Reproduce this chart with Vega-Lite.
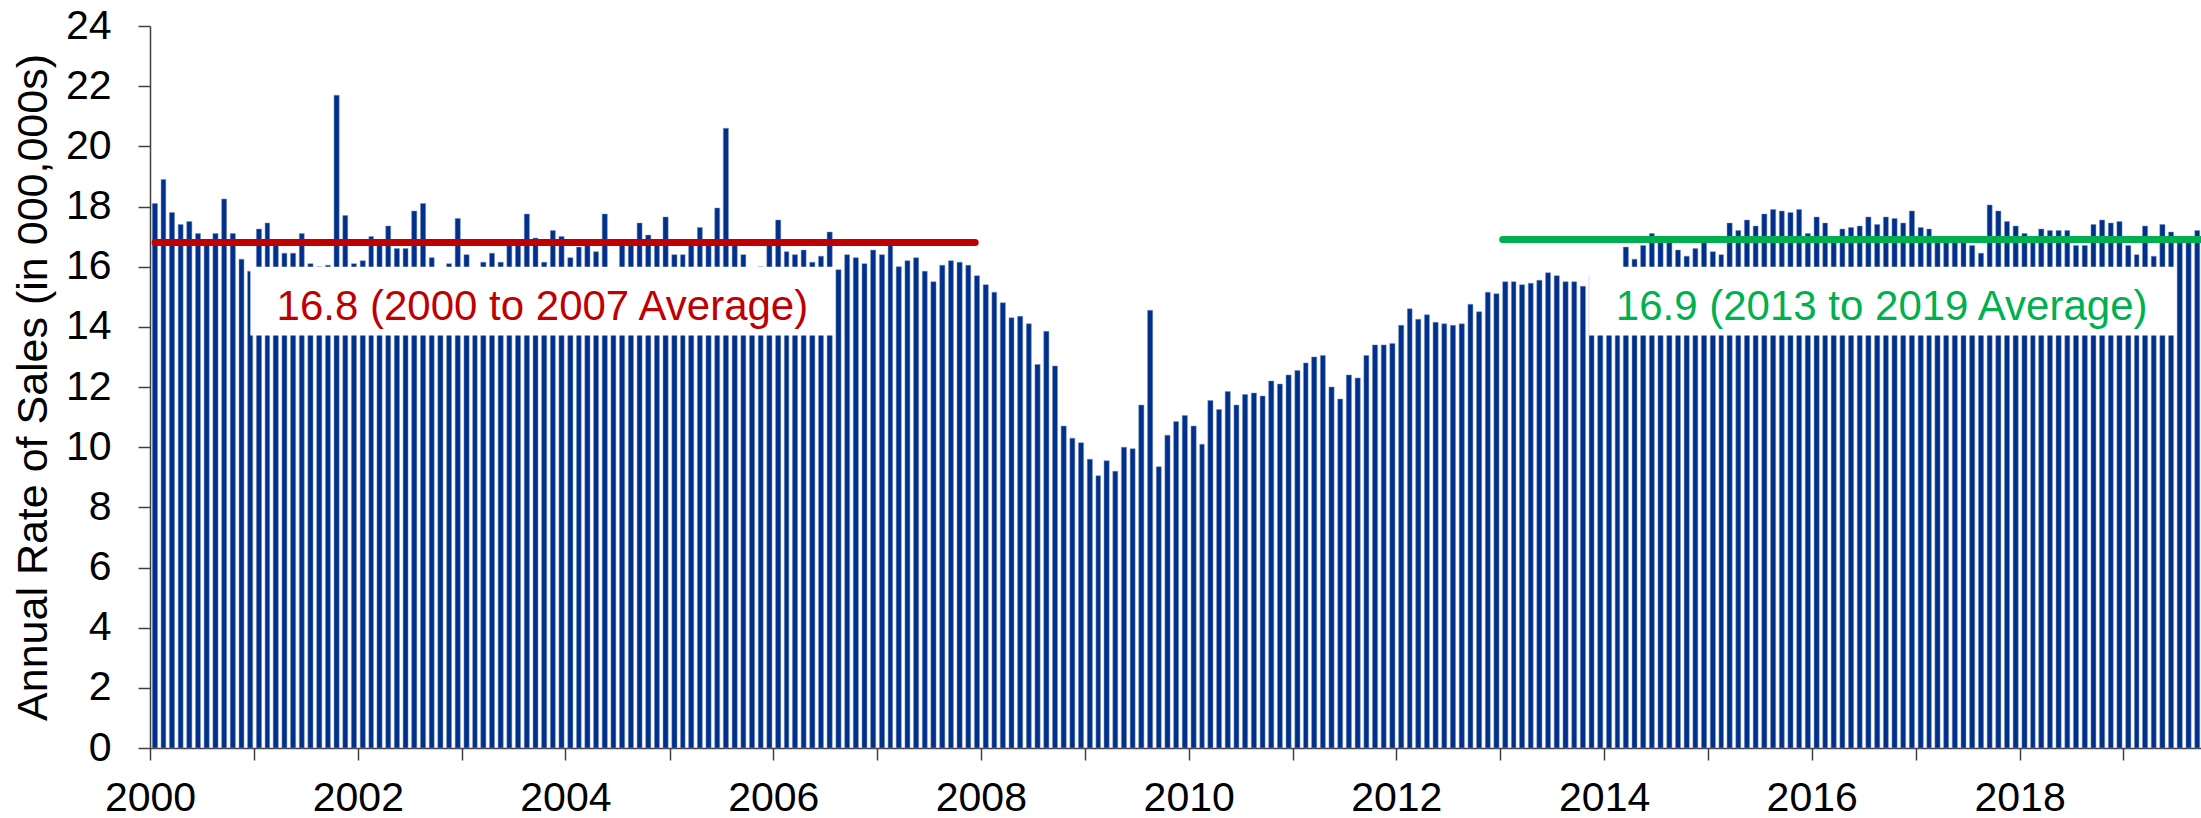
{
  "$schema": "https://vega.github.io/schema/vega-lite/v6.json",
  "width": 2051,
  "height": 722,
  "autosize": "none",
  "padding": {"left": 150, "top": 26, "right": 0, "bottom": 70},
  "config": {"view": {"stroke": null}, "font": "Liberation Sans"},
  "datasets": {
    "sales": [
      {"date":"2000-01-01","sales":18.1},{"date":"2000-02-01","sales":18.9},{"date":"2000-03-01","sales":17.8},{"date":"2000-04-01","sales":17.4},{"date":"2000-05-01","sales":17.5},{"date":"2000-06-01","sales":17.1},{"date":"2000-07-01","sales":16.8},{"date":"2000-08-01","sales":17.1},{"date":"2000-09-01","sales":18.25},{"date":"2000-10-01","sales":17.1},{"date":"2000-11-01","sales":16.25},{"date":"2000-12-01","sales":15.85},
      {"date":"2001-01-01","sales":17.25},{"date":"2001-02-01","sales":17.45},{"date":"2001-03-01","sales":16.8},{"date":"2001-04-01","sales":16.45},{"date":"2001-05-01","sales":16.45},{"date":"2001-06-01","sales":17.1},{"date":"2001-07-01","sales":16.1},{"date":"2001-08-01","sales":16.0},{"date":"2001-09-01","sales":16.05},{"date":"2001-10-01","sales":21.7},{"date":"2001-11-01","sales":17.7},{"date":"2001-12-01","sales":16.1},
      {"date":"2002-01-01","sales":16.2},{"date":"2002-02-01","sales":17.0},{"date":"2002-03-01","sales":16.8},{"date":"2002-04-01","sales":17.35},{"date":"2002-05-01","sales":16.6},{"date":"2002-06-01","sales":16.6},{"date":"2002-07-01","sales":17.85},{"date":"2002-08-01","sales":18.1},{"date":"2002-09-01","sales":16.3},{"date":"2002-10-01","sales":15.9},{"date":"2002-11-01","sales":16.1},{"date":"2002-12-01","sales":17.6},
      {"date":"2003-01-01","sales":16.4},{"date":"2003-02-01","sales":15.9},{"date":"2003-03-01","sales":16.15},{"date":"2003-04-01","sales":16.45},{"date":"2003-05-01","sales":16.15},{"date":"2003-06-01","sales":16.8},{"date":"2003-07-01","sales":16.8},{"date":"2003-08-01","sales":17.75},{"date":"2003-09-01","sales":16.95},{"date":"2003-10-01","sales":16.15},{"date":"2003-11-01","sales":17.2},{"date":"2003-12-01","sales":17.0},
      {"date":"2004-01-01","sales":16.3},{"date":"2004-02-01","sales":16.65},{"date":"2004-03-01","sales":16.75},{"date":"2004-04-01","sales":16.5},{"date":"2004-05-01","sales":17.75},{"date":"2004-06-01","sales":15.9},{"date":"2004-07-01","sales":16.8},{"date":"2004-08-01","sales":16.8},{"date":"2004-09-01","sales":17.45},{"date":"2004-10-01","sales":17.05},{"date":"2004-11-01","sales":16.8},{"date":"2004-12-01","sales":17.65},
      {"date":"2005-01-01","sales":16.4},{"date":"2005-02-01","sales":16.4},{"date":"2005-03-01","sales":16.8},{"date":"2005-04-01","sales":17.3},{"date":"2005-05-01","sales":16.8},{"date":"2005-06-01","sales":17.95},{"date":"2005-07-01","sales":20.6},{"date":"2005-08-01","sales":16.8},{"date":"2005-09-01","sales":16.4},{"date":"2005-10-01","sales":15.9},{"date":"2005-11-01","sales":16.0},{"date":"2005-12-01","sales":16.8},
      {"date":"2006-01-01","sales":17.55},{"date":"2006-02-01","sales":16.5},{"date":"2006-03-01","sales":16.4},{"date":"2006-04-01","sales":16.55},{"date":"2006-05-01","sales":16.15},{"date":"2006-06-01","sales":16.35},{"date":"2006-07-01","sales":17.15},{"date":"2006-08-01","sales":15.9},{"date":"2006-09-01","sales":16.4},{"date":"2006-10-01","sales":16.3},{"date":"2006-11-01","sales":16.1},{"date":"2006-12-01","sales":16.55},
      {"date":"2007-01-01","sales":16.4},{"date":"2007-02-01","sales":16.7},{"date":"2007-03-01","sales":16.0},{"date":"2007-04-01","sales":16.2},{"date":"2007-05-01","sales":16.3},{"date":"2007-06-01","sales":15.85},{"date":"2007-07-01","sales":15.5},{"date":"2007-08-01","sales":16.05},{"date":"2007-09-01","sales":16.2},{"date":"2007-10-01","sales":16.15},{"date":"2007-11-01","sales":16.05},{"date":"2007-12-01","sales":15.7},
      {"date":"2008-01-01","sales":15.4},{"date":"2008-02-01","sales":15.15},{"date":"2008-03-01","sales":14.8},{"date":"2008-04-01","sales":14.3},{"date":"2008-05-01","sales":14.35},{"date":"2008-06-01","sales":14.1},{"date":"2008-07-01","sales":12.75},{"date":"2008-08-01","sales":13.85},{"date":"2008-09-01","sales":12.7},{"date":"2008-10-01","sales":10.7},{"date":"2008-11-01","sales":10.3},{"date":"2008-12-01","sales":10.15},
      {"date":"2009-01-01","sales":9.6},{"date":"2009-02-01","sales":9.05},{"date":"2009-03-01","sales":9.55},{"date":"2009-04-01","sales":9.2},{"date":"2009-05-01","sales":10.0},{"date":"2009-06-01","sales":9.95},{"date":"2009-07-01","sales":11.4},{"date":"2009-08-01","sales":14.55},{"date":"2009-09-01","sales":9.35},{"date":"2009-10-01","sales":10.4},{"date":"2009-11-01","sales":10.85},{"date":"2009-12-01","sales":11.05},
      {"date":"2010-01-01","sales":10.7},{"date":"2010-02-01","sales":10.1},{"date":"2010-03-01","sales":11.55},{"date":"2010-04-01","sales":11.25},{"date":"2010-05-01","sales":11.85},{"date":"2010-06-01","sales":11.4},{"date":"2010-07-01","sales":11.75},{"date":"2010-08-01","sales":11.8},{"date":"2010-09-01","sales":11.7},{"date":"2010-10-01","sales":12.2},{"date":"2010-11-01","sales":12.1},{"date":"2010-12-01","sales":12.4},
      {"date":"2011-01-01","sales":12.55},{"date":"2011-02-01","sales":12.8},{"date":"2011-03-01","sales":13.0},{"date":"2011-04-01","sales":13.05},{"date":"2011-05-01","sales":12.0},{"date":"2011-06-01","sales":11.6},{"date":"2011-07-01","sales":12.4},{"date":"2011-08-01","sales":12.3},{"date":"2011-09-01","sales":13.05},{"date":"2011-10-01","sales":13.4},{"date":"2011-11-01","sales":13.4},{"date":"2011-12-01","sales":13.45},
      {"date":"2012-01-01","sales":14.05},{"date":"2012-02-01","sales":14.6},{"date":"2012-03-01","sales":14.25},{"date":"2012-04-01","sales":14.4},{"date":"2012-05-01","sales":14.15},{"date":"2012-06-01","sales":14.1},{"date":"2012-07-01","sales":14.05},{"date":"2012-08-01","sales":14.1},{"date":"2012-09-01","sales":14.75},{"date":"2012-10-01","sales":14.5},{"date":"2012-11-01","sales":15.15},{"date":"2012-12-01","sales":15.1},
      {"date":"2013-01-01","sales":15.5},{"date":"2013-02-01","sales":15.5},{"date":"2013-03-01","sales":15.4},{"date":"2013-04-01","sales":15.45},{"date":"2013-05-01","sales":15.55},{"date":"2013-06-01","sales":15.8},{"date":"2013-07-01","sales":15.7},{"date":"2013-08-01","sales":15.5},{"date":"2013-09-01","sales":15.5},{"date":"2013-10-01","sales":15.35},{"date":"2013-11-01","sales":15.7},{"date":"2013-12-01","sales":15.4},
      {"date":"2014-01-01","sales":15.2},{"date":"2014-02-01","sales":15.3},{"date":"2014-03-01","sales":16.65},{"date":"2014-04-01","sales":16.25},{"date":"2014-05-01","sales":16.7},{"date":"2014-06-01","sales":17.1},{"date":"2014-07-01","sales":16.9},{"date":"2014-08-01","sales":16.9},{"date":"2014-09-01","sales":16.55},{"date":"2014-10-01","sales":16.35},{"date":"2014-11-01","sales":16.6},{"date":"2014-12-01","sales":16.9},
      {"date":"2015-01-01","sales":16.5},{"date":"2015-02-01","sales":16.4},{"date":"2015-03-01","sales":17.45},{"date":"2015-04-01","sales":17.2},{"date":"2015-05-01","sales":17.55},{"date":"2015-06-01","sales":17.35},{"date":"2015-07-01","sales":17.75},{"date":"2015-08-01","sales":17.9},{"date":"2015-09-01","sales":17.85},{"date":"2015-10-01","sales":17.8},{"date":"2015-11-01","sales":17.9},{"date":"2015-12-01","sales":17.1},
      {"date":"2016-01-01","sales":17.65},{"date":"2016-02-01","sales":17.45},{"date":"2016-03-01","sales":16.9},{"date":"2016-04-01","sales":17.25},{"date":"2016-05-01","sales":17.3},{"date":"2016-06-01","sales":17.35},{"date":"2016-07-01","sales":17.65},{"date":"2016-08-01","sales":17.4},{"date":"2016-09-01","sales":17.65},{"date":"2016-10-01","sales":17.6},{"date":"2016-11-01","sales":17.45},{"date":"2016-12-01","sales":17.85},
      {"date":"2017-01-01","sales":17.3},{"date":"2017-02-01","sales":17.25},{"date":"2017-03-01","sales":16.9},{"date":"2017-04-01","sales":16.9},{"date":"2017-05-01","sales":16.9},{"date":"2017-06-01","sales":16.9},{"date":"2017-07-01","sales":16.7},{"date":"2017-08-01","sales":16.45},{"date":"2017-09-01","sales":18.05},{"date":"2017-10-01","sales":17.85},{"date":"2017-11-01","sales":17.5},{"date":"2017-12-01","sales":17.35},
      {"date":"2018-01-01","sales":17.1},{"date":"2018-02-01","sales":16.9},{"date":"2018-03-01","sales":17.25},{"date":"2018-04-01","sales":17.2},{"date":"2018-05-01","sales":17.2},{"date":"2018-06-01","sales":17.2},{"date":"2018-07-01","sales":16.7},{"date":"2018-08-01","sales":16.7},{"date":"2018-09-01","sales":17.4},{"date":"2018-10-01","sales":17.55},{"date":"2018-11-01","sales":17.45},{"date":"2018-12-01","sales":17.5},
      {"date":"2019-01-01","sales":16.7},{"date":"2019-02-01","sales":16.4},{"date":"2019-03-01","sales":17.35},{"date":"2019-04-01","sales":16.35},{"date":"2019-05-01","sales":17.4},{"date":"2019-06-01","sales":17.15},{"date":"2019-07-01","sales":16.9},{"date":"2019-08-01","sales":16.9},{"date":"2019-09-01","sales":17.2}
    ],
    "averages": [
      {"period":"2000 to 2007","start":"2000-01-19","end":"2007-12-12","average":16.8,"boxStart":"2000-12-19","boxEnd":"2006-08-03","boxTop":16.0,"boxBottom":13.71,"labelDate":"2003-10-12","labelValue":14.23,"label":"16.8 (2000 to 2007 Average)"},
      {"period":"2013 to 2019","start":"2013-01-09","end":"2019-10-01","average":16.9,"boxStart":"2013-11-09","boxEnd":"2019-06-30","boxTop":16.0,"boxBottom":13.71,"labelDate":"2016-09-03","labelValue":14.23,"label":"16.9 (2013 to 2019 Average)"}
    ]
  },
  "layer": [
    {
      "data": {"name": "sales"},
      "mark": {"type": "bar", "color": "#00308A", "width": {"band": 0.7}, "stroke": "#7890c4", "strokeWidth": 0.5},
      "encoding": {
        "x": {
          "field": "date", "type": "temporal", "timeUnit": "utcyearmonth",
          "scale": {"type": "utc", "domain": [{"year": 2000, "month": 1, "date": 1, "utc": true}, {"year": 2019, "month": 10, "date": 1, "utc": true}]},
          "axis": {
            "title": null, "format": "%Y", "grid": false,
            "tickCount": {"interval": "year", "step": 1},
            "labelExpr": "utcyear(datum.value) % 2 === 0 ? datum.label : ''",
            "labelFontSize": 41, "labelColor": "#000000", "labelPadding": 18, "labelFlush": false, "labelOverlap": false,
            "tickSize": 12, "tickColor": "#404040", "tickWidth": 1.5,
            "domainColor": "#404040", "domainWidth": 1.5
          }
        },
        "y": {
          "field": "sales", "type": "quantitative",
          "scale": {"domain": [0, 24], "nice": false},
          "axis": {
            "title": "Annual Rate of Sales (in 000,000s)", "grid": false,
            "values": [0, 2, 4, 6, 8, 10, 12, 14, 16, 18, 20, 22, 24],
            "titleFontSize": 43, "titleFontWeight": "normal", "titleColor": "#000000",
            "titleX": -104, "titleY": 361, "titleBaseline": "alphabetic", "titleAngle": -90, "titleAlign": "center",
            "labelFontSize": 41, "labelColor": "#000000", "labelPadding": 27,
            "tickSize": 12, "tickColor": "#404040", "tickWidth": 1.5,
            "domainColor": "#404040", "domainWidth": 1.5
          }
        }
      }
    },
    {
      "data": {"name": "averages"},
      "mark": {"type": "rect", "color": "#ffffff"},
      "encoding": {
        "x": {"field": "boxStart", "type": "temporal", "scale": {"type": "utc"}},
        "x2": {"field": "boxEnd"},
        "y": {"field": "boxTop", "type": "quantitative"},
        "y2": {"field": "boxBottom"}
      }
    },
    {
      "data": {"name": "averages"},
      "mark": {"type": "rule", "strokeWidth": 7, "strokeCap": "round"},
      "encoding": {
        "x": {"field": "start", "type": "temporal", "scale": {"type": "utc"}},
        "x2": {"field": "end"},
        "y": {"field": "average", "type": "quantitative"},
        "color": {"field": "period", "type": "nominal", "scale": {"domain": ["2000 to 2007", "2013 to 2019"], "range": ["#C00000", "#00B050"]}, "legend": null}
      }
    },
    {
      "data": {"name": "averages"},
      "mark": {"type": "text", "fontSize": 42, "align": "center", "baseline": "alphabetic", "font": "Liberation Sans"},
      "encoding": {
        "x": {"field": "labelDate", "type": "temporal", "scale": {"type": "utc"}},
        "y": {"field": "labelValue", "type": "quantitative"},
        "text": {"field": "label"},
        "color": {"field": "period", "type": "nominal", "legend": null}
      }
    }
  ]
}
